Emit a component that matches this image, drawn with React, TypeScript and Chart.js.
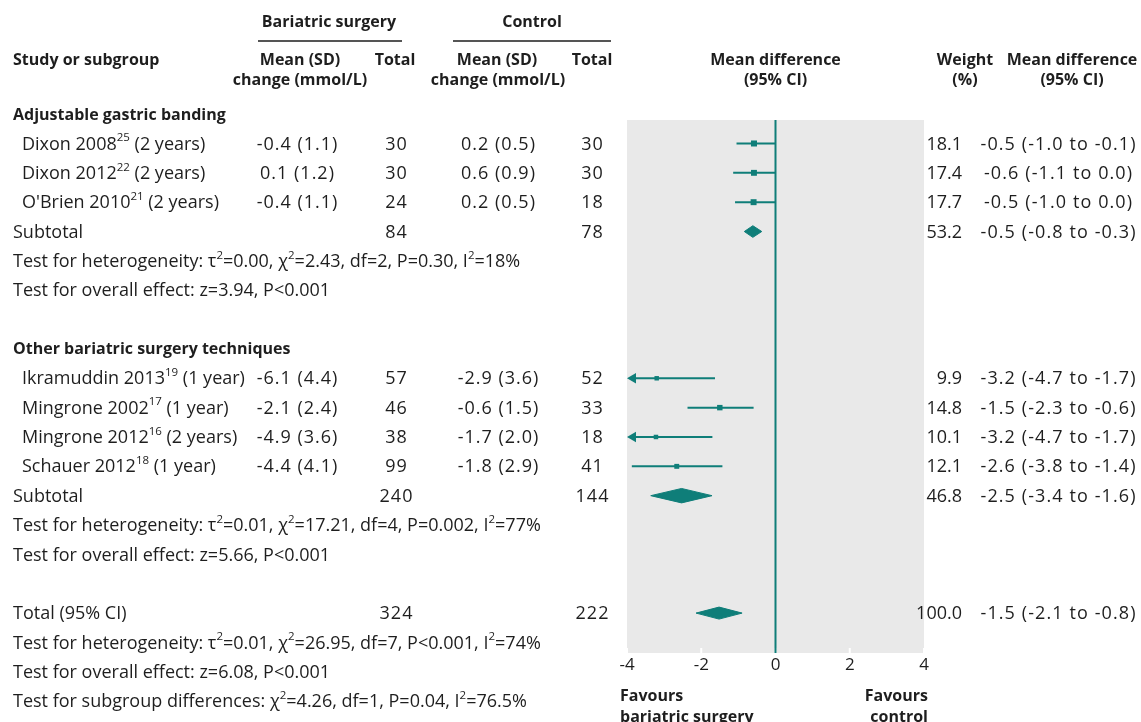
import React, { useEffect, useRef } from 'react';
import { Chart, registerables } from 'chart.js';

Chart.register(...registerables);

// ---------- data ----------
const xTickValues = [-4, -2, 0, 2, 4];

const groupTitles = ['Adjustable gastric banding', 'Other bariatric surgery techniques'];
const groupRows = [0, 8];

const studyLabels = [
  'Dixon 2008^{25} (2 years)',
  'Dixon 2012^{22} (2 years)',
  "O'Brien 2010^{21} (2 years)",
  'Ikramuddin 2013^{19} (1 year)',
  'Mingrone 2002^{17} (1 year)',
  'Mingrone 2012^{16} (2 years)',
  'Schauer 2012^{18} (1 year)',
];
const studyRows = [1, 2, 3, 9, 10, 11, 12];
const surgeryMeanSD = ['-0.4 (1.1)', '0.1 (1.2)', '-0.4 (1.1)', '-6.1 (4.4)', '-2.1 (2.4)', '-4.9 (3.6)', '-4.4 (4.1)'];
const surgeryTotal = [30, 30, 24, 57, 46, 38, 99];
const controlMeanSD = ['0.2 (0.5)', '0.6 (0.9)', '0.2 (0.5)', '-2.9 (3.6)', '-0.6 (1.5)', '-1.7 (2.0)', '-1.8 (2.9)'];
const controlTotal = [30, 30, 18, 52, 33, 18, 41];
const studyWeight = [18.1, 17.4, 17.7, 9.9, 14.8, 10.1, 12.1];
const studyMD = [-0.58, -0.58, -0.59, -3.2, -1.5, -3.22, -2.66];
const studyLow = [-1.05, -1.14, -1.09, -4.7, -2.37, -4.7, -3.87];
const studyHigh = [0.01, 0.01, 0.01, -1.63, -0.59, -1.7, -1.43];
const studyCIText = [
  '-0.5 (-1.0 to -0.1)',
  '-0.6 (-1.1 to 0.0)',
  '-0.5 (-1.0 to 0.0)',
  '-3.2 (-4.7 to -1.7)',
  '-1.5 (-2.3 to -0.6)',
  '-3.2 (-4.7 to -1.7)',
  '-2.6 (-3.8 to -1.4)',
];

const pooledLabels = ['Subtotal', 'Subtotal', 'Total (95% CI)'];
const pooledRows = [4, 13, 17];
const pooledSurgeryTotal = [84, 240, 324];
const pooledControlTotal = [78, 144, 222];
const pooledWeight = ['53.2', '46.8', '100.0'];
const pooledMD = [-0.61, -2.53, -1.52];
const pooledLow = [-0.84, -3.36, -2.14];
const pooledHigh = [-0.37, -1.71, -0.9];
const pooledCIText = ['-0.5 (-0.8 to -0.3)', '-2.5 (-3.4 to -1.6)', '-1.5 (-2.1 to -0.8)'];

const testTexts = [
  'Test for heterogeneity: τ^{2}=0.00, χ^{2}=2.43, df=2, P=0.30, I^{2}=18%',
  'Test for overall effect: z=3.94, P<0.001',
  'Test for heterogeneity: τ^{2}=0.01, χ^{2}=17.21, df=4, P=0.002, I^{2}=77%',
  'Test for overall effect: z=5.66, P<0.001',
  'Test for heterogeneity: τ^{2}=0.01, χ^{2}=26.95, df=7, P<0.001, I^{2}=74%',
  'Test for overall effect: z=6.08, P<0.001',
  'Test for subgroup differences: χ^{2}=4.26, df=1, P=0.04, I^{2}=76.5%',
];
const testRows = [5, 6, 14, 15, 18, 19, 20];

const favoursLeft = ['Favours', 'bariatric surgery'];
const favoursRight = ['Favours', 'control'];

// ---------- style / layout ----------
const W = 1141;
const H = 722;
const TEAL = '#0f7e79';
const GREY = '#e9e9e9';
const INK = '#1e1e1e';
const FONT = '"Open Sans", "Noto Sans", sans-serif';
const REG = 18;
const BOLD = 16;
const TICK_SIZE = 17;
const Y_TOP = 0.2;
const Y_BOTTOM = 18.36;
const ROW_PX = 29.35;
const DIAMOND_HALF_PX = [5.8, 7.2, 6.0];
const ARROW_R = 6;
const X_PX_PER_UNIT = 297 / 8;
const TEXT_DY = 1;
const NUM_SPACING = 1;
const CI_SPACING = 1.1;
const WEIGHT_RIGHT = 962;
const CI_CENTER = 1058;

// ---------- rich text helpers ----------
type Seg = { t: string; sup: boolean };
function parseRich(s: string): Seg[] {
  const out: Seg[] = [];
  const re = /\^\{([^}]*)\}/g;
  let last = 0;
  let m: RegExpExecArray | null;
  while ((m = re.exec(s))) {
    if (m.index > last) out.push({ t: s.slice(last, m.index), sup: false });
    out.push({ t: m[1], sup: true });
    last = m.index + m[0].length;
  }
  if (last < s.length) out.push({ t: s.slice(last), sup: false });
  return out;
}
function fontStr(size: number, bold: boolean) {
  return `${bold ? '700 ' : ''}${size}px ${FONT}`;
}
function drawRich(
  ctx: CanvasRenderingContext2D,
  s: string,
  x: number,
  y: number,
  align: 'left' | 'center' | 'right',
  bold = false,
  spacing = 0
) {
  const size = bold ? BOLD : REG;
  const segs = parseRich(s);
  const c: any = ctx;
  const prevSpacing = c.letterSpacing;
  c.letterSpacing = `${spacing}px`;
  let total = 0;
  const widths = segs.map((g) => {
    ctx.font = fontStr(g.sup ? size * 0.64 : size, bold);
    const w = ctx.measureText(g.t).width;
    total += w;
    return w;
  });
  if (spacing) total -= spacing;
  let cx = align === 'left' ? x : align === 'center' ? x - total / 2 : x - total;
  ctx.textAlign = 'left';
  ctx.textBaseline = 'middle';
  segs.forEach((g, i) => {
    ctx.font = fontStr(g.sup ? size * 0.64 : size, bold);
    ctx.fillText(g.t, cx, g.sup ? y - size * 0.36 : y);
    cx += widths[i];
  });
  c.letterSpacing = prevSpacing || '0px';
}

// ---------- plugins ----------
const backgroundPlugin = {
  id: 'forestBackground',
  beforeDraw(chart: any) {
    const { ctx, chartArea } = chart;
    ctx.save();
    ctx.fillStyle = '#ffffff';
    ctx.fillRect(0, 0, chart.width, chart.height);
    ctx.fillStyle = GREY;
    ctx.fillRect(chartArea.left, chartArea.top, chartArea.right - chartArea.left, chartArea.bottom - chartArea.top);
    ctx.restore();
  },
  beforeDatasetsDraw(chart: any) {
    const { ctx, chartArea } = chart;
    const xs = chart.scales.x;
    ctx.save();
    ctx.strokeStyle = '#ffffff';
    ctx.lineWidth = 2;
    xs.ticks.forEach((t: any) => {
      const px = xs.getPixelForValue(t.value);
      ctx.beginPath();
      ctx.moveTo(px, chartArea.bottom);
      ctx.lineTo(px, chartArea.bottom - 5);
      ctx.stroke();
    });
    ctx.restore();
  },
};

const tablePlugin = {
  id: 'forestTable',
  afterDraw(chart: any) {
    const ctx: CanvasRenderingContext2D = chart.ctx;
    const ys = chart.scales.y;
    const xs = chart.scales.x;
    const py = (r: number) => ys.getPixelForValue(r) + TEXT_DY;
    const x0 = xs.getPixelForValue(0);
    ctx.save();
    ctx.fillStyle = INK;

    // header
    drawRich(ctx, 'Bariatric surgery', 329, 22, 'center', true);
    drawRich(ctx, 'Control', 532, 22, 'center', true);
    ctx.strokeStyle = INK;
    ctx.lineWidth = 1.5;
    ctx.beginPath();
    ctx.moveTo(258, 41);
    ctx.lineTo(402, 41);
    ctx.moveTo(453, 41);
    ctx.lineTo(611, 41);
    ctx.stroke();
    drawRich(ctx, 'Study or subgroup', 13, 60, 'left', true);
    drawRich(ctx, 'Mean (SD)', 300, 60, 'center', true);
    drawRich(ctx, 'change (mmol/L)', 300, 80, 'center', true);
    drawRich(ctx, 'Total', 395, 60, 'center', true);
    drawRich(ctx, 'Mean (SD)', 497, 60, 'center', true);
    drawRich(ctx, 'change (mmol/L)', 498, 80, 'center', true);
    drawRich(ctx, 'Total', 592, 60, 'center', true);
    drawRich(ctx, 'Mean difference', x0, 60, 'center', true);
    drawRich(ctx, '(95% CI)', x0, 80, 'center', true);
    drawRich(ctx, 'Weight', 965, 60, 'center', true);
    drawRich(ctx, '(%)', 965, 80, 'center', true);
    drawRich(ctx, 'Mean difference', 1072, 60, 'center', true);
    drawRich(ctx, '(95% CI)', 1072, 80, 'center', true);

    groupTitles.forEach((g, i) => drawRich(ctx, g, 13, py(groupRows[i]), 'left', true));

    studyLabels.forEach((s, i) => {
      const y = py(studyRows[i]);
      drawRich(ctx, s, 22, y, 'left');
      drawRich(ctx, surgeryMeanSD[i], 297, y, 'center', false, NUM_SPACING);
      drawRich(ctx, String(surgeryTotal[i]), 396, y, 'center', false, NUM_SPACING);
      drawRich(ctx, controlMeanSD[i], 498, y, 'center', false, NUM_SPACING);
      drawRich(ctx, String(controlTotal[i]), 592, y, 'center', false, NUM_SPACING);
      drawRich(ctx, studyWeight[i].toFixed(1), WEIGHT_RIGHT, y, 'right');
      drawRich(ctx, studyCIText[i], CI_CENTER, y, 'center', false, CI_SPACING);
    });

    pooledLabels.forEach((s, i) => {
      const y = py(pooledRows[i]);
      drawRich(ctx, s, 13, y, 'left');
      drawRich(ctx, String(pooledSurgeryTotal[i]), 396, y, 'center', false, NUM_SPACING);
      drawRich(ctx, String(pooledControlTotal[i]), 592, y, 'center', false, NUM_SPACING);
      drawRich(ctx, pooledWeight[i], WEIGHT_RIGHT, y, 'right');
      drawRich(ctx, pooledCIText[i], CI_CENTER, y, 'center', false, CI_SPACING);
    });

    testTexts.forEach((s, i) => drawRich(ctx, s, 13, py(testRows[i]), 'left'));

    const left = chart.chartArea.left - 7;
    const right = chart.chartArea.right + 4;
    favoursLeft.forEach((s, i) => drawRich(ctx, s, left, 696 + i * 21, 'left', true));
    favoursRight.forEach((s, i) => drawRich(ctx, s, right, 696 + i * 21, 'right', true));
    ctx.restore();
  },
};

// ---------- datasets ----------
function buildDatasets() {
  const ds: any[] = [];
  // squares
  ds.push({
    type: 'scatter',
    data: studyMD.map((m, i) => ({ x: m, y: studyRows[i] })),
    pointStyle: 'rect',
    pointRadius: studyWeight.map((w) => Math.sqrt(w)),
    pointBackgroundColor: TEAL,
    pointBorderWidth: 0,
    order: 0,
  });
  // CI lines (with arrows where truncated)
  studyMD.forEach((_, i) => {
    const clippedLeft = studyLow[i] < xTickValues[0];
    const lo = clippedLeft ? xTickValues[0] + ARROW_R / X_PX_PER_UNIT : studyLow[i];
    const hi = Math.min(studyHigh[i], xTickValues[xTickValues.length - 1]);
    ds.push({
      type: 'line',
      data: [
        { x: lo, y: studyRows[i] },
        { x: hi, y: studyRows[i] },
      ],
      borderColor: TEAL,
      borderWidth: 2,
      pointRadius: [clippedLeft ? ARROW_R : 0, 0],
      pointStyle: 'triangle',
      rotation: -90,
      pointBackgroundColor: TEAL,
      pointBorderWidth: 0,
      fill: false,
      order: 1,
    });
  });
  // diamonds
  pooledMD.forEach((m, i) => {
    const r = pooledRows[i];
    const h = DIAMOND_HALF_PX[i] / ROW_PX;
    ds.push({
      type: 'line',
      data: [
        { x: pooledLow[i], y: r },
        { x: m, y: r - h },
        { x: pooledHigh[i], y: r },
        { x: m, y: r + h },
        { x: pooledLow[i], y: r },
      ],
      borderColor: TEAL,
      borderWidth: 1,
      backgroundColor: TEAL,
      fill: 'shape',
      pointRadius: 0,
      tension: 0,
      order: 1,
    });
  });
  // line of no effect
  ds.push({
    type: 'line',
    data: [
      { x: 0, y: Y_TOP },
      { x: 0, y: Y_BOTTOM },
    ],
    borderColor: TEAL,
    borderWidth: 2,
    pointRadius: 0,
    fill: false,
    order: 2,
  });
  return ds;
}

export default function App() {
  const ref = useRef<HTMLCanvasElement | null>(null);
  useEffect(() => {
    const canvas = ref.current;
    if (!canvas) return;
    const chart = new Chart(canvas, {
      type: 'scatter',
      data: { datasets: buildDatasets() },
      options: {
        responsive: false,
        maintainAspectRatio: false,
        animation: false,
        devicePixelRatio: 1,
        layout: { padding: { left: 627, right: W - 924, top: 120, bottom: 39 } },
        plugins: {
          legend: { display: false },
          tooltip: { enabled: false },
        },
        scales: {
          x: {
            type: 'linear',
            min: xTickValues[0],
            max: xTickValues[xTickValues.length - 1],
            afterBuildTicks: (s: any) => {
              s.ticks = xTickValues.map((v) => ({ value: v }));
            },
            afterFit: (s: any) => {
              s.height = 30;
            },
            ticks: {
              font: { family: FONT, size: TICK_SIZE },
              color: INK,
              padding: 2,
              callback: (v: any) => String(v),
            },
            grid: { drawOnChartArea: false, drawTicks: false },
            border: { display: false },
          },
          y: {
            type: 'linear',
            display: false,
            min: Y_TOP,
            max: Y_BOTTOM,
            reverse: true,
          },
        },
      } as any,
      plugins: [backgroundPlugin, tablePlugin],
    });
    return () => chart.destroy();
  }, []);
  return (
    <div style={{ position: 'fixed', left: 0, top: 0, width: W, height: H, background: '#fff' }}>
      <canvas ref={ref} width={W} height={H} style={{ display: 'block', width: W, height: H }} />
    </div>
  );
}
